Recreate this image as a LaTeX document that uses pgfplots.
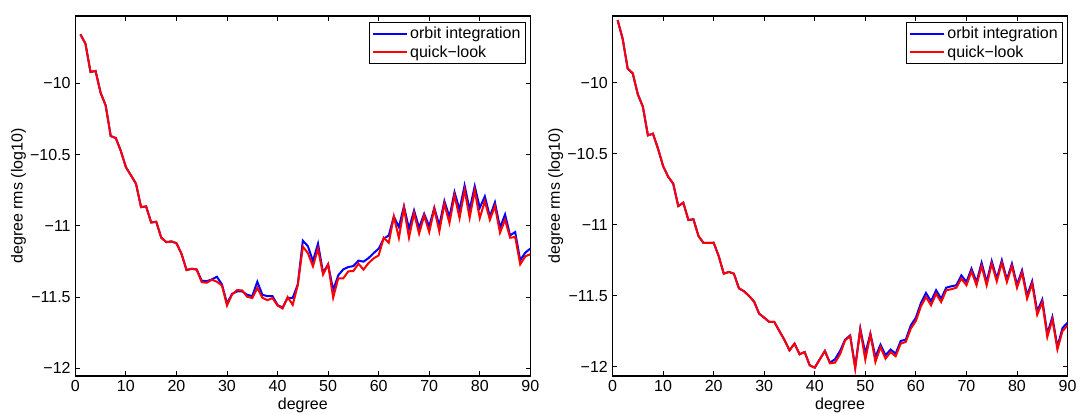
\documentclass[border=0pt]{standalone}
\usepackage{fontspec}
\setmainfont{Liberation Sans}
\usepackage{pgfplots}
\pgfplotsset{compat=1.18}
\usepackage{pgfplotstable}

\pgfplotstableread{
n orbit quick
1 -9.656 -9.656
2 -9.721 -9.721
3 -9.920 -9.920
4 -9.913 -9.913
5 -10.066 -10.066
6 -10.155 -10.155
7 -10.370 -10.370
8 -10.384 -10.384
9 -10.475 -10.475
10 -10.588 -10.588
11 -10.646 -10.646
12 -10.705 -10.705
13 -10.869 -10.869
14 -10.864 -10.864
15 -10.977 -10.977
16 -10.972 -10.972
17 -11.084 -11.084
18 -11.115 -11.115
19 -11.110 -11.110
20 -11.122 -11.122
21 -11.197 -11.197
22 -11.311 -11.311
23 -11.302 -11.302
24 -11.307 -11.307
25 -11.386 -11.396
26 -11.389 -11.400
27 -11.377 -11.379
28 -11.358 -11.393
29 -11.412 -11.419
30 -11.546 -11.560
31 -11.478 -11.482
32 -11.461 -11.452
33 -11.461 -11.454
34 -11.485 -11.499
35 -11.494 -11.508
36 -11.393 -11.436
37 -11.485 -11.506
38 -11.494 -11.522
39 -11.494 -11.508
40 -11.557 -11.560
41 -11.574 -11.581
42 -11.506 -11.501
43 -11.506 -11.555
44 -11.412 -11.417
45 -11.105 -11.147
46 -11.143 -11.192
47 -11.248 -11.285
48 -11.126 -11.161
49 -11.329 -11.343
50 -11.271 -11.271
51 -11.453 -11.505
52 -11.348 -11.369
53 -11.306 -11.369
54 -11.290 -11.320
55 -11.283 -11.318
56 -11.245 -11.266
57 -11.252 -11.308
58 -11.227 -11.262
59 -11.192 -11.229
60 -11.161 -11.208
61 -11.091 -11.084
62 -11.068 -11.119
63 -10.935 -10.935
64 -11.009 -11.086
65 -10.864 -10.874
66 -11.021 -11.084
67 -10.893 -10.911
68 -11.014 -11.056
69 -10.916 -10.928
70 -11.005 -11.044
71 -10.874 -10.881
72 -10.998 -11.040
73 -10.827 -10.846
74 -10.939 -10.981
75 -10.764 -10.787
76 -10.888 -10.946
77 -10.717 -10.748
78 -10.888 -10.944
79 -10.722 -10.752
80 -10.874 -10.946
81 -10.794 -10.827
82 -10.935 -10.958
83 -10.836 -10.862
84 -11.014 -11.049
85 -10.921 -10.958
86 -11.068 -11.084
87 -11.044 -11.079
88 -11.243 -11.271
89 -11.189 -11.215
90 -11.160 -11.200
}\leftdata

\pgfplotstableread{
n orbit quick
1 -9.559 -9.559
2 -9.690 -9.690
3 -9.901 -9.901
4 -9.934 -9.934
5 -10.082 -10.082
6 -10.169 -10.169
7 -10.371 -10.371
8 -10.359 -10.359
9 -10.465 -10.465
10 -10.587 -10.587
11 -10.662 -10.662
12 -10.711 -10.711
13 -10.869 -10.869
14 -10.845 -10.845
15 -10.967 -10.967
16 -10.962 -10.962
17 -11.080 -11.080
18 -11.129 -11.129
19 -11.129 -11.129
20 -11.127 -11.127
21 -11.221 -11.221
22 -11.345 -11.345
23 -11.333 -11.333
24 -11.345 -11.345
25 -11.448 -11.448
26 -11.469 -11.469
27 -11.502 -11.502
28 -11.542 -11.542
29 -11.627 -11.627
30 -11.655 -11.655
31 -11.685 -11.685
32 -11.685 -11.685
33 -11.749 -11.749
34 -11.812 -11.812
35 -11.885 -11.885
36 -11.838 -11.838
37 -11.913 -11.913
38 -11.897 -11.897
39 -11.991 -11.991
40 -12.007 -12.007
41 -11.948 -11.948
42 -11.890 -11.890
43 -11.972 -11.977
44 -11.948 -11.972
45 -11.890 -11.913
46 -11.810 -11.815
47 -11.780 -11.784
48 -12.002 -12.014
49 -11.732 -11.739
50 -11.908 -11.951
51 -11.768 -11.772
52 -11.932 -11.967
53 -11.845 -11.862
54 -11.920 -11.944
55 -11.880 -11.897
56 -11.908 -11.927
57 -11.819 -11.838
58 -11.810 -11.826
59 -11.709 -11.732
60 -11.655 -11.678
61 -11.552 -11.575
62 -11.481 -11.509
63 -11.540 -11.568
64 -11.462 -11.486
65 -11.521 -11.545
66 -11.444 -11.462
67 -11.434 -11.455
68 -11.427 -11.444
69 -11.357 -11.380
70 -11.404 -11.427
71 -11.310 -11.329
72 -11.404 -11.427
73 -11.268 -11.291
74 -11.404 -11.427
75 -11.256 -11.275
76 -11.380 -11.399
77 -11.251 -11.268
78 -11.387 -11.404
79 -11.275 -11.291
80 -11.423 -11.444
81 -11.322 -11.338
82 -11.498 -11.521
83 -11.399 -11.415
84 -11.610 -11.634
85 -11.528 -11.545
86 -11.768 -11.791
87 -11.650 -11.667
88 -11.861 -11.878
89 -11.728 -11.749
90 -11.690 -11.710
}\rightdata

\pgfplotsset{
  mystyle/.style={
    scale only axis, width=341.25pt, height=270pt,
    xmin=0, xmax=90, xtick={0,10,...,90},
    ytick={-12,-11.5,-11,-10.5,-10},
    yticklabels={−12,−11.5,−11,−10.5,−10},
    tick align=inside, major tick length=3.5pt,
    font=\fontsize{12}{14}\selectfont,
    /pgf/number format/assume math mode=true,
    axis line style={line width=0.8pt},
    every tick/.style={black, line width=0.6pt},
    xlabel={degree}, ylabel={degree rms (log10)},
    xlabel style={at={(axis description cs:0.5,-0.0806)}, anchor=center},
    ylabel style={at={(axis description cs:-0.125,0.5)}, anchor=center},
    legend style={at={(axis description cs:0.9897,0.9833)}, anchor=north east,
      draw=black, line width=0.75pt, inner xsep=2pt, inner ysep=2pt,
      nodes={inner sep=1.5pt}, row sep=0.5pt},
    legend cell align=left,
    legend image code/.code={\draw[#1] (0pt,0pt) -- (25.5pt,0pt);},
  }
}

\begin{document}
\begin{tikzpicture}
\useasboundingbox (0,0) rectangle (811.5pt,310.5pt);
\begin{axis}[mystyle, at={(56.5pt,28.5pt)}, anchor=south west, ymin=-12.055, ymax=-9.527]
\addplot[blue, line width=1.5pt] table[x=n, y=orbit] {\leftdata};
\addplot[red, line width=1.5pt] table[x=n, y=quick] {\leftdata};
\legend{orbit integration, quick−look}
\end{axis}
\begin{axis}[mystyle, at={(459.4pt,28.5pt)}, anchor=south west, ymin=-12.066, ymax=-9.53]
\addplot[blue, line width=1.5pt] table[x=n, y=orbit] {\rightdata};
\addplot[red, line width=1.5pt] table[x=n, y=quick] {\rightdata};
\legend{orbit integration, quick−look}
\end{axis}
\end{tikzpicture}
\end{document}
